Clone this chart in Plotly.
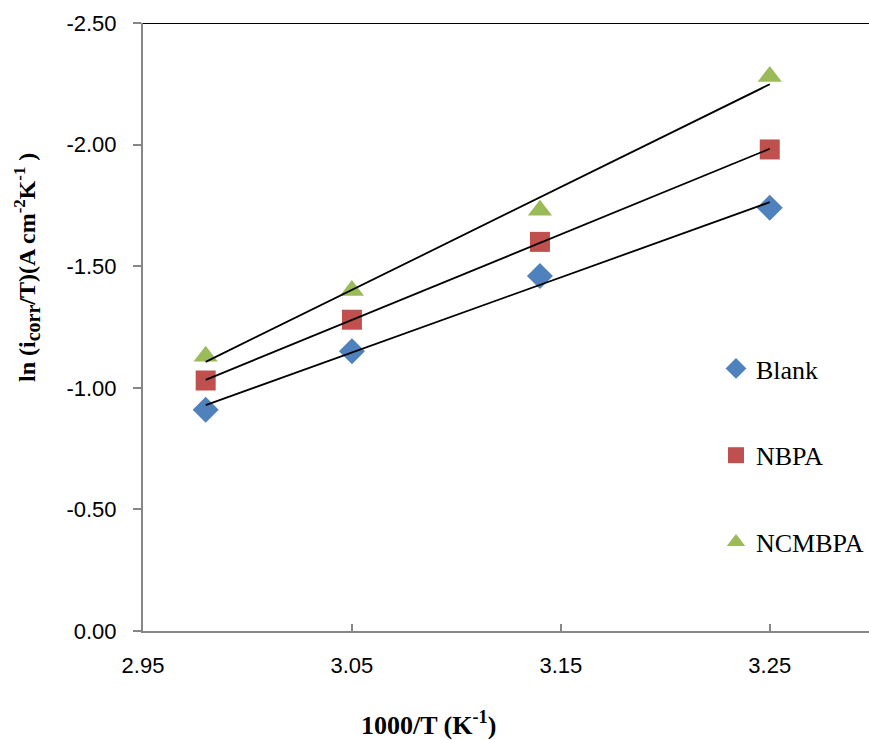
import numpy as np
import plotly.graph_objects as go

x_vals = [2.98, 3.05, 3.14, 3.25]
blank = [-0.91, -1.15, -1.46, -1.74]
nbpa = [-1.03, -1.28, -1.60, -1.98]
ncmbpa = [-1.13, -1.40, -1.73, -2.28]
series_names = ["Blank", "NBPA", "NCMBPA"]
x_ticks = [2.95, 3.05, 3.15, 3.25]
y_ticks = [0.0, -0.5, -1.0, -1.5, -2.0, -2.5]

colors = ["#4F81BD", "#C0504D", "#9BBB59"]
symbols = ["diamond", "square", "triangle-up"]
sizes = [20, 20, 21]

L, R, T, B = 143, 0, 23, 109
W, H = 869, 740
pw, ph = W - L - R, H - T - B

fig = go.Figure()
for i, (name, ys) in enumerate(zip(series_names, [blank, nbpa, ncmbpa])):
    fig.add_trace(go.Scatter(
        x=x_vals, y=ys, mode="markers", name=name,
        legendgroup=name,
        marker=dict(symbol=symbols[i], size=sizes[i], color=colors[i],
                    line=dict(width=0)),
    ))
for ys in [blank, nbpa, ncmbpa]:
    m, b = np.polyfit(x_vals, ys, 1)
    xs = [x_vals[0], x_vals[-1]]
    fig.add_trace(go.Scatter(
        x=xs, y=[m * v + b for v in xs], mode="lines",
        line=dict(color="black", width=1.8), showlegend=False, hoverinfo="skip",
    ))

fig.add_shape(type="line", xref="paper", yref="y", x0=0, x1=1, y0=-2.5, y1=-2.5,
              line=dict(color="black", width=2))

fig.add_annotation(
    text="<b>ln (i<sub><span style='font-size:20px'>corr</span></sub>/T)(A cm<sup>-2</sup>K<sup>-1</sup> )</b>",
    xref="paper", yref="paper", x=(27 - L) / pw, y=(H - B - 268) / ph,
    xanchor="center", yanchor="middle", textangle=-90, showarrow=False,
    font=dict(family="Liberation Serif", size=24, color="black"))
fig.add_annotation(
    text="<b>1000/T (K<sup>-1</sup>)</b>",
    xref="paper", yref="paper", x=(428 - L) / pw, y=-(723 - (H - B)) / ph,
    xanchor="center", yanchor="middle", showarrow=False,
    font=dict(family="Liberation Serif", size=26, color="black"))

fig.update_layout(
    width=W, height=H,
    margin=dict(l=L, r=R, t=T, b=B),
    paper_bgcolor="white", plot_bgcolor="white",
    showlegend=True,
    legend=dict(x=1.0, y=(H - B - 345) / ph, xanchor="right", yanchor="top",
                font=dict(family="Liberation Serif", size=26, color="black"),
                tracegroupgap=50, itemsizing="trace", itemwidth=30,
                bgcolor="rgba(0,0,0,0)"),
    xaxis=dict(range=[2.95, 3.2975], tickvals=x_ticks, ticktext=[f"{v:.2f}" for v in x_ticks],
               showgrid=False, zeroline=False,
               showline=True, linecolor="#868686", linewidth=2,
               ticks="inside", ticklen=7, tickcolor="#868686", tickwidth=1.5,
               ticklabelstandoff=14,
               tickfont=dict(family="Liberation Sans", size=22, color="black")),
    yaxis=dict(range=[0, -2.5], tickvals=y_ticks, ticktext=[f"{v:.2f}" for v in y_ticks],
               showgrid=False, zeroline=False,
               showline=True, linecolor="#868686", linewidth=2,
               ticks="outside", ticklen=8, tickcolor="#868686", tickwidth=1.5,
               ticklabelstandoff=12,
               tickfont=dict(family="Liberation Sans", size=22, color="black")),
)

fig.write_html("out.html")
